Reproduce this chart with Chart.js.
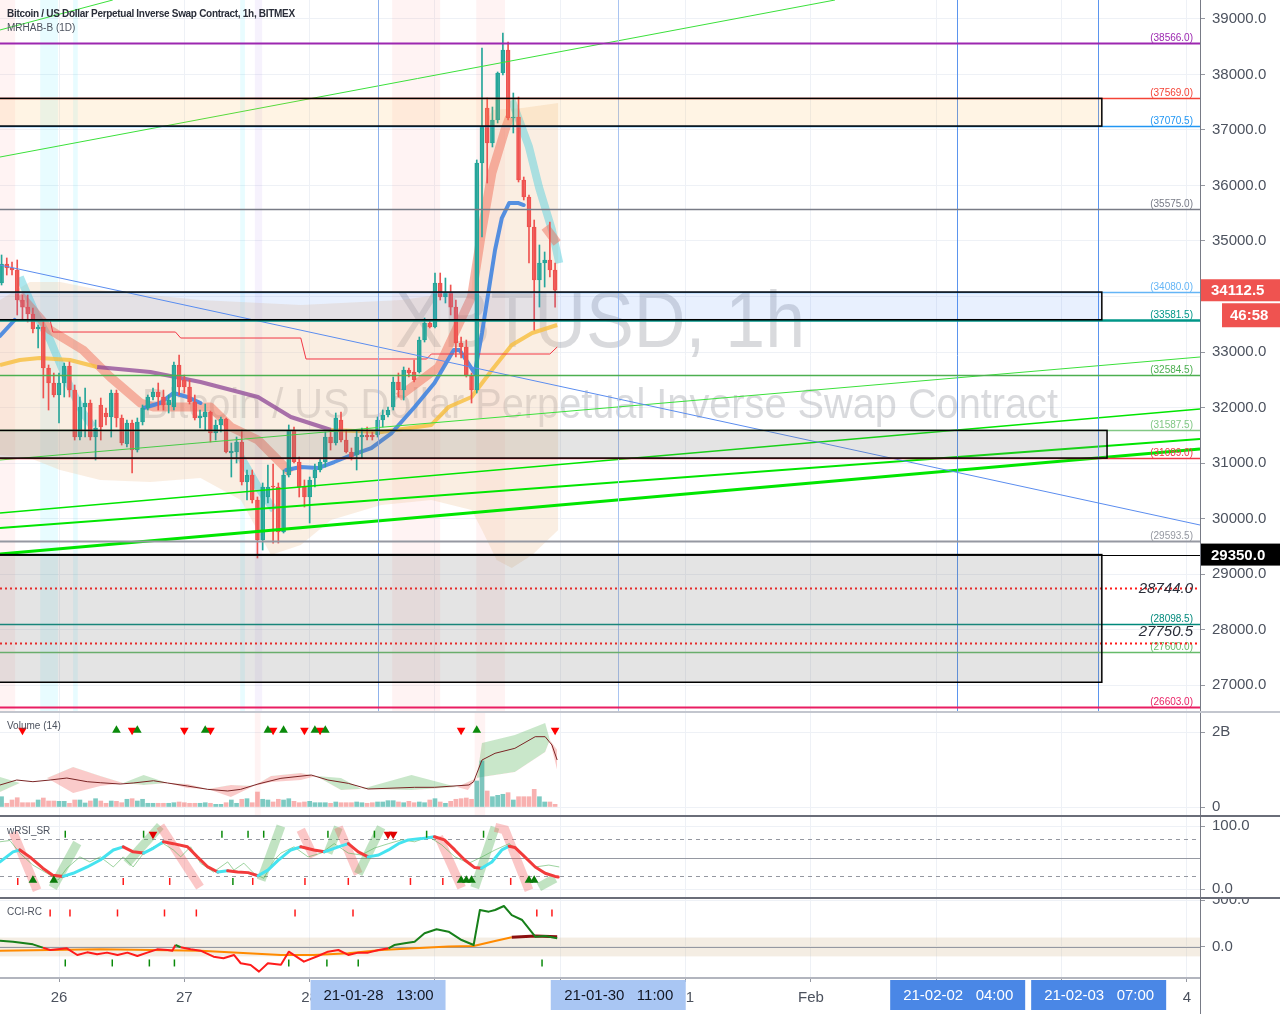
<!DOCTYPE html>
<html>
<head>
<meta charset="utf-8">
<title>XBTUSD 1h</title>
<script src="https://cdn.jsdelivr.net/npm/chart.js@4.4.1/dist/chart.umd.min.js"></script>
<style>
  html, body { margin: 0; padding: 0; background: #fff; }
  #wrap { position: relative; width: 1280px; height: 1014px; overflow: hidden; }
  .pane { position: absolute; left: 0; width: 1280px; }
  .title { position: absolute; left: 7px; font-family: 'Liberation Sans', Arial, sans-serif; font-size: 10px;
           color: #4c525e; white-space: nowrap; pointer-events: none; }
</style>
</head>
<body>
<div id="wrap">
  <div class="pane" style="top:0;height:711px"><canvas id="priceChart"></canvas></div>
  <div class="pane" style="top:711px;height:104px"><canvas id="volChart"></canvas></div>
  <div class="pane" style="top:815px;height:82px"><canvas id="rsiChart"></canvas></div>
  <div class="pane" style="top:897px;height:117px"><canvas id="cciChart"></canvas></div>
  <div class="title" style="top:8px;font-weight:bold;color:#2a2e39;letter-spacing:-0.3px">Bitcoin / US Dollar Perpetual Inverse Swap Contract, 1h, BITMEX</div>
  <div class="title" style="top:22px">MRHAB-B (1D)</div>
  <div class="title" style="top:720px">Volume (14)</div>
  <div class="title" style="top:825px">wRSI_SR</div>
  <div class="title" style="top:906px">CCI-RC</div>
</div>
<script>
// hour 0 = 2021-01-26 00:00, one candle per hour, first candle = 25 Jan 13:00
const firstHour = -11;
const opens = [34243,34585,34513,34477,33937,33810,33685,33415,33450,32712,32441,
  32225,32441,32748,32315,31468,32009,32081,31468,32045,31901,
  31829,32261,31811,31342,31721,31234,31739,31991,32189,32279,
  32189,32045,32009,32766,32495,32369,32099,31811,31829,31919,
  31540,31685,31793,31180,31198,31378,30658,30784,30333,29613,
  30388,30586,30568,29757,30784,31595,31018,30568,30388,30730,
  30874,31018,31468,31360,31775,31414,31198,31144,31468,31504,
  31504,31504,31775,31865,32009,32459,32315,32675,32639,32640,
  33216,33522,33450,34243,33991,34063,33810,33162,33090,32585,
  32315,36405,37396,36766,37180,38027,38441,37216,37234,36099,
  35793,35252,34297,34603,34658,34477];
const highs = [34748,34694,34622,34658,34027,34027,33793,33486,33577,32766,32621,
  32621,32802,32820,32405,32189,32351,32135,31775,32171,31991,
  32315,32315,31865,31775,31775,31811,32045,32225,32351,32441,
  32315,32225,32820,32946,32585,32495,32225,31955,32063,31937,
  31775,31829,31811,31360,31468,31595,30874,30874,30388,30640,
  30964,30982,30640,30874,31685,31649,31108,30694,30748,30982,
  31090,31558,31595,31901,31919,31595,31270,31595,31631,31649,
  31558,31829,31955,32009,32549,32621,32730,32712,32856,33270,
  33612,33577,34423,34423,34333,34207,33937,33270,33216,32621,
  36460,38477,37576,37414,38045,38747,38585,37666,37594,36153,
  35829,35378,34928,34802,35342,34603];
const lows = [34207,34387,34387,33667,33577,33540,33342,33072,32171,31955,32189,
  31721,32189,32189,31414,31414,31468,31414,31054,31414,31685,
  31468,31649,31324,31288,30820,31198,31685,31955,32135,31955,
  31955,31901,31955,32225,32261,32063,31775,31631,31595,31378,
  31414,31558,31180,30748,31000,30604,30333,30279,29288,29432,
  30279,29558,29558,29739,30748,31000,30388,30207,29919,30568,
  30838,30928,31234,31324,31378,31180,31054,30874,31090,31414,
  31414,31468,31649,31829,31955,32189,32135,32549,32459,32621,
  33180,33432,33432,33937,33883,33667,32910,32892,32549,32081,
  32261,35072,36045,36694,37126,37991,37180,36946,36063,35739,
  34603,33396,33810,34171,34351,33810];
const closes = [34585,34513,34477,33937,33810,33685,33415,33450,32712,32441,32225,
  32441,32748,32315,31468,32009,32081,31468,31631,31649,31829,
  32261,31811,31360,31721,31234,31739,31991,32189,32279,32189,
  32045,32135,32766,32369,32369,32099,31811,31847,31919,31540,
  31685,31793,31198,31216,31378,30658,30784,30333,29613,30568,
  30568,30568,29757,30784,31595,31018,30568,30388,30694,30874,
  31018,31468,31360,31811,31414,31198,31108,31468,31504,31468,
  31468,31775,31865,31955,32459,32315,32675,32621,32495,33216,
  33522,33450,34243,33991,34063,33810,33162,33090,32585,32315,
  36405,37054,36766,37180,38027,38441,37216,37234,36099,35793,
  35252,34297,34603,34658,34477,34112.5];
// volume, millions
const volumes = [275,99,187,248,115,115,115,187,240,160,160,
  152,152,99,187,187,107,160,222,160,99,
  160,152,115,206,222,160,206,99,99,99,
  99,99,115,134,115,99,99,99,115,99,
  72,72,115,187,99,206,222,115,400,206,
  187,134,206,187,222,152,115,134,152,115,
  115,115,99,134,115,115,115,134,115,99,
  115,134,134,169,169,134,115,152,115,134,
  115,187,222,134,99,152,206,222,240,206,
  694,1228,427,275,312,339,382,187,275,275,
  275,472,275,134,134,72];

// MRHAB-B overlay, [hour, price]
const cloudTop = [[-11.3,33937],[-5.6,34261],[0.2,34261],[7.9,34117],[27.1,33937],[46.3,33847],[65.6,33937],
  [79,34117],[80.2,35738],[81.3,37000],[82.9,37360],[88.7,37396],[95.6,37486]];
const cloudBot = [[-11.3,31144],[-5.6,31090],[0.2,30874],[7.9,30694],[17.5,30658],[27.1,30730],[34.8,30333],
  [40.6,29342],[46.3,29522],[52.1,29973],[61.7,30243],[71.3,30333],[79,30153],[81,29793],[83.8,29252],
  [86.7,29108],[90.6,29342],[95.6,29793]];
const slowLine = [[-11.3,32766],[-7.5,32856],[-3.7,32892],[2.1,32856],[7.3,32730],[17.5,32640],[27.1,32459],
  [38.1,32189],[44.4,31829],[52.1,31595],[61.7,31559],[71.3,31685],[74.6,32009],[79,32189],[82.9,32676],
  [86.7,33126],[90.6,33342],[95.4,33486]];
const blueLine = [
  [[-11.3,33288],[-8.5,33577]],
  [[16.2,31991],[19.4,32081],[21.9,32261],[24.6,32189],[27.1,32081]],
  [[43.5,30874],[46.3,30928],[49.6,30910],[52.7,31018],[56,31144],[59.8,31270],[63.7,31540],[68.1,32009],
   [71.9,32441],[75.6,33036],[76.7,33036],[79.6,32621],[81,33342],[82.3,34117],[83.5,34838],[84.8,35414],
   [86.2,35684],[88,35684],[89,35648]]];
const salmonRibbon = [
  [[-7.5,34027],[-1.7,33396],[4.6,33036],[9.8,32549],[15.6,32081],[18.1,32009],[29,32009],[32.9,31649],
   [38.1,31414],[41.9,31054],[44.4,30820]],
  [[65,32189],[72.7,32730],[79,33991],[81,35198],[82.9,36225],[85.4,37000],[86.3,37234]],
  [[93.1,35252],[95.4,34964]]];
const cyanRibbon = [
  [[-7.5,34351],[-4.2,33630],[-1.7,33216],[1.5,32495],[4.6,31901],[6.5,31649]],
  [[34.8,31108],[38.1,30568],[41.2,30153]],
  [[86.7,37540],[90,36694],[91.9,35973],[94.4,35198],[95.8,34603]]];
const redStep = [[-11.3,33577],[-1.7,33577],[-1.2,33360],[22.3,33360],[23.3,33252],[46.3,33252],[47.3,32874],
  [70.4,32874],[71.3,32964],[94,32964],[95.4,33090]];

// chart drawings
const levelValues = [38566.0,37569.0,37070.5,35575.0,34080.0,33581.5,32584.5,31587.5,31089.0,29593.5,28098.5,27600.0,26603.0];
const targetValues = [28744.0, 27750.5];
const boxes = [[37569.0,37070.5,199.7],[34080.0,33581.5,199.7],[31587.5,31089.0,200.7],[29350.0,27050.0,199.7]];
const trendLines = [
  [[-11.3,36513],[148.6,39342]],
  [[-11.3,38802],[10.3,39342]],
  [[-11.3,34567],[218.5,29883]],
  [[-11.3,31054],[218.5,32910]],
  [[-11.3,30099],[218.5,31973]],
  [[-11.3,29829],[218.5,31432]],
  [[-11.3,29360],[218.5,31252]]];
const priceStripes = [[-11.3,-8.4,'pink'],[-3.6,-0.2,'cyan'],[2.7,3.6,'cyan'],[34.7,35.6,'cyan'],[37.5,38.9,'violet'],[63.8,73,'pink'],[79.9,85.4,'pink']];
const volStripes = [[37.5,38.6,'pink'],[79.6,81.6,'pink']];
const markHours = [61, 107, 172, 199];
const markLabels = ['21-01-28   13:00', '21-01-30   11:00', '21-02-02   04:00', '21-02-03   07:00'];
const lastPrice = 34112.5, countdown = '46:58', markPrice = 29350.0;

// volume pane
const volMa = [[-11.3,587],[-8.1,720],[-5,675],[-1.7,720],[1.5,773],[5.4,675],[7.9,648],[11.7,613],[14.2,640],
  [18.1,701],[20.8,640],[24.6,560],[28.5,471],[32.3,427],[34.8,471],[38.1,613],[42.5,765],[48.3,853],[51.5,720],
  [55.4,631],[59.2,480],[68.1,525],[71.9,525],[78.5,587],[79.4,675],[81,1253],[83.5,1432],[87.3,1565],
  [91.2,1875],[93.1,1875],[94.4,1653],[95.4,1253]];
const volBandA = [[-11.3,800],[-7.5,640],[-2.3,773],[2.7,373],[7.9,560],[12.3,640],[16.2,853],[20.8,640],[24.6,507],
  [28.5,480],[32.9,267],[37.3,560],[40.6,667],[46.3,720],[49.2,827],[54,773],[57.9,480],[67.5,853],[76.2,533],
  [78.3,453],[80,773],[81,1707],[87.3,1920],[93.1,2240],[94,1787],[95.4,987]];
const volBandB = [[-11.3,400],[-7.5,640],[-2.3,773],[2.7,1067],[7.9,827],[12.3,640],[16.2,587],[20.8,640],[24.6,613],
  [28.5,480],[32.9,587],[37.3,560],[40.6,827],[46.3,907],[49.2,827],[54,453],[57.9,480],[67.5,453],[76.2,533],
  [78.3,667],[80,773],[81,800],[87.3,933],[93.1,1467],[94,1787],[95.4,1520]];
const volUpHours = [11,15,28,40,43,49,51,80];
const volDownHours = [-7,14,24,29,41,47,50,77,95];

// wRSI_SR pane
const rsiMain = [[-11.3,43],[-8.8,59],[-7.5,62],[-5.6,51],[-3.1,33],[-1.2,22],[0.8,20],[2.7,25],[5.4,35],[7.9,46],
  [10.4,62],[12.3,67],[14.2,59],[16.2,57],[18.1,65],[20,75],[21.9,72],[24.6,67],[26.5,51],[28.5,35],[30.4,27],
  [32.3,29],[34.2,27],[36.2,26],[38.1,21],[40,30],[41.9,45],[44.4,62],[46.3,67],[48.8,62],[50.8,59],[53.5,67],
  [55.4,72],[57.3,59],[59.2,51],[61.2,54],[63.1,62],[65,72],[66.9,78],[69.4,80],[71.9,83],[73.8,78],[75.8,62],
  [77.7,46],[79.6,34],[80.9,33],[82.9,43],[84.8,62],[86.2,68],[87.3,66],[89.2,51],[91.2,35],[93.1,25],[95,20],[95.6,19]];
const rsiThin = [[-11.3,75],[-9.4,77],[-7.5,57],[-5,38],[-2.3,25],[-0.2,14],[1.5,33],[4,51],[5.9,43],[7.9,51],
  [10.4,35],[12.3,51],[14.2,35],[16.2,57],[18.1,67],[20,72],[21.9,62],[23.3,51],[25.2,67],[27.1,41],[29.6,27],
  [32.3,43],[33.5,30],[35.4,41],[37.3,25],[39.2,17],[41.2,46],[42.5,57],[45,67],[47.7,51],[50.2,57],[52.7,72],
  [55.4,57],[57.9,54],[60.4,65],[63.1,72],[65.6,78],[68.1,75],[70.8,83],[73.3,70],[75.8,51],[78.5,41],[81,51],
  [83.5,62],[86.2,72],[88.7,57],[91.2,35],[93.8,38],[95.8,35]];
const rsiSwing = [
  [[-8.8,90],[-4.2,-2]],
  [[-1.2,2],[3.5,73]],
  [[13,41],[19.4,100],[27,3]],
  [[38.7,14],[42.5,100]],
  [[46.3,94],[48.8,51]],
  [[51.5,57],[53.5,98],[57.3,24],[61.7,98]],
  [[72.7,83],[77.1,2]],
  [[79.6,2],[83.5,98],[85.4,94],[90,-2]],
  [[91.9,3],[95,17]]];
const rsiUpHours = [-5,-1,77,78,79,90,91];
const rsiDownHours = [18,63,64];
const rsiTopGreen = [1.2,16.2,31.2,36.2,39.2,51.5,60.4,70.4,81.3];
const rsiBottomGreen = [33.3];
const rsiBottomRed = [-7.9,12.3,21.2,37.1,47.1,55.4,67.3,73.5,86.5];

// CCI-RC pane
const cciMain = [[-11.3,67],[-8.8,56],[-5,28],[-3.1,-7],[-1.7,-32],[0.2,-21],[1.5,-14],[3.5,-85],[5.4,-57],[7.3,-78],
  [9.2,-60],[11.2,-85],[13.1,-60],[15,-96],[16.9,-60],[18.8,-25],[20.8,-32],[21.7,-40],[22.3,21],[23.3,-3],
  [25.2,-25],[27.1,-39],[29.6,-103],[31.5,-120],[33.5,-85],[34.8,-173],[36.7,-191],[38.3,-262],[40,-173],
  [42.5,-190],[44,-50],[46.9,-156],[49.6,-96],[51.5,-50],[53.5,-32],[55.4,-85],[57.3,-60],[59.2,-60],[61.2,-32],
  [63.1,-14],[64.2,21],[66.2,39],[68.1,56],[70,146],[72.3,188],[74.6,163],[77.1,74],[79.4,21],[80.6,394],
  [82.3,376],[83.5,394],[85.2,436],[86.7,340],[88.7,287],[91.2,110],[93.1,117],[95.4,93]];
const cciSignal = [[-11.3,-39],[7.9,-25],[27.1,-39],[42.5,-85],[48.8,-85],[55.4,-67],[61.7,-32],[68.1,-14],
  [74.6,4],[79.4,11],[83.5,64],[86.7,103],[91.2,117],[95.4,110]];
const cciTopRed = [-1.7,2.1,11.2,20.2,26.3,45.2,56.3,91.5,94.4];
const cciBottomGreen = [1.2,10.2,17.3,22.1,44,51.3,57.3,92.5];

// axis labels
const dayLabels = ['26','27','28','29','30','31','Feb','2','3','4'];
const priceTicks = [27000,28000,29000,30000,31000,32000,33000,34000,35000,36000,37000,38000,39000];

// ---------- styling ----------
const X_MIN = -11.3, X_MAX = 218.5;
const FONT = "'Liberation Sans', Arial, sans-serif";
const TXT = '#4c525e';
const GRID = '#eef1f6';
const UP = '#26a69a', DN = '#ef5350';
const levelColors = ['#9c27b0','#f44336','#2196f3','#787b86','#64b5f6','#009688','#4caf50','#81c784','#f23645','#9598a1','#00897b','#66bb6a','#e91e63'];
const levelWidths = [2,1.5,1.5,1.5,1.5,2.5,1.5,1.5,1.5,2,1.5,1.5,2];
const boxFills = ['rgba(255,183,77,0.15)','rgba(66,133,244,0.12)','rgba(120,120,120,0.2)','rgba(120,120,120,0.2)'];
const trendColors = ['#3be03b','#3be03b','#5b8def','#3be03b','#00e600','#00e600','#00e600'];
const trendWidths = [1,1,1,1,1.5,2,3];
const stripeColors = { pink: 'rgba(255,82,82,0.07)', cyan: 'rgba(0,220,255,0.09)', violet: 'rgba(150,110,230,0.09)' };
const markColors = ['#8fb2ec','#a9c4f1','#5b95ee','#5b95ee'];
const markBoxColors = ['#a9c6f3','#a9c6f3','#4a87e6','#4a87e6'];
const markTextColors = ['#131722','#131722','#ffffff','#ffffff'];

Chart.defaults.font.family = FONT;
Chart.defaults.animation = false;
Chart.defaults.events = [];
Chart.defaults.plugins.legend.display = false;
Chart.defaults.plugins.tooltip.enabled = false;
Chart.defaults.elements.point.radius = 0;

const pts = arr => arr.map(p => ({ x: p[0], y: p[1] }));
const hours = opens.map((_, i) => firstHour + i);
const up = hours.map((_, i) => closes[i] >= opens[i]);
const gridHours = [];
for (let h = 0; h <= 216; h += 24) gridHours.push(h);

function xAxis(withLabels) {
  return {
    type: 'linear', min: X_MIN, max: X_MAX, offset: false,
    afterBuildTicks: s => { s.ticks = gridHours.map(v => ({ value: v })); },
    ticks: { display: withLabels, autoSkip: false, maxRotation: 0, padding: 7, color: TXT, font: { size: 15 },
             callback: v => dayLabels[v / 24] },
    grid: { color: GRID, offset: false, drawTicks: withLabels, tickLength: 4, tickColor: '#9598a1' },
    border: { display: withLabels, color: '#b2b5be', width: 2 },
    afterFit: s => { s.height = withLabels ? 36 : 0; s.paddingLeft = 0; s.paddingRight = 0; }
  };
}
function yAxis(min, max, ticks, fmt) {
  return {
    position: 'right', min, max,
    afterBuildTicks: s => { s.ticks = ticks.map(v => ({ value: v })); },
    ticks: { color: TXT, font: { size: 15 }, padding: 7, callback: fmt },
    grid: { color: GRID, tickLength: 5, tickColor: '#9598a1' },
    border: { display: true, color: '#787b86' },
    afterFit: s => { s.width = 80; s.paddingTop = 0; s.paddingBottom = 0; }
  };
}
function baseOptions(yScale, withLabels) {
  return {
    responsive: true, maintainAspectRatio: false, devicePixelRatio: 1,
    layout: { padding: 0, autoPadding: false },
    scales: { x: xAxis(withLabels), y: yScale }
  };
}
function markers(hrs, value, style, color, extra) {
  return Object.assign({
    type: 'line', order: -5, showLine: false, data: hrs.map(h => ({ x: h, y: value })),
    pointStyle: style, pointRadius: 5, pointBackgroundColor: color, pointBorderColor: color, pointBorderWidth: 0
  }, extra || {});
}
function tickMarks(hrs, value, color) {
  return markers(hrs, value, 'line', color, { pointRadius: 3.5, pointRotation: 90, pointBorderWidth: 1.5 });
}

// decoration shared by the panes: stripes, bands, reference lines, separators, time marks
function paneDecor(opts) {
  return {
    id: 'paneDecor',
    beforeDatasetsDraw(chart) {
      const { ctx, chartArea: a, scales: { x, y } } = chart;
      ctx.save();
      (opts.stripes || []).forEach(s => {
        const x0 = x.getPixelForValue(s[0]), x1 = x.getPixelForValue(s[1]);
        ctx.fillStyle = stripeColors[s[2]];
        ctx.fillRect(x0, a.top, x1 - x0, a.height);
      });
      if (opts.band) {
        const y0 = y.getPixelForValue(opts.band[1]), y1 = y.getPixelForValue(opts.band[0]);
        ctx.fillStyle = opts.band[2];
        ctx.fillRect(a.left, y0, a.width, y1 - y0);
      }
      (opts.hlines || []).forEach(l => {
        const yy = Math.round(y.getPixelForValue(l.v)) + 0.5;
        ctx.strokeStyle = l.color; ctx.lineWidth = 1; ctx.setLineDash(l.dash || []);
        ctx.beginPath(); ctx.moveTo(a.left, yy); ctx.lineTo(a.right, yy); ctx.stroke();
      });
      ctx.restore();
    },
    afterDraw(chart) {
      const { ctx, chartArea: a, scales: { x } } = chart;
      ctx.save();
      if (opts.sep) { ctx.fillStyle = opts.sep; ctx.fillRect(0, 0, chart.width, 2); }
      if (opts.axisMarks) {
        ctx.fillStyle = '#787b86';
        ctx.fillRect(a.right, a.bottom, 1, chart.height - a.bottom);
        ctx.font = `15px ${FONT}`; ctx.textAlign = 'center'; ctx.textBaseline = 'middle';
        markHours.forEach((h, i) => {
          const xx = x.getPixelForValue(h);
          ctx.fillStyle = markBoxColors[i];
          ctx.fillRect(xx - 67, a.bottom + 2, 135, 30);
          ctx.fillStyle = markTextColors[i];
          ctx.fillText(markLabels[i], xx + 1, a.bottom + 18);
        });
      }
      ctx.restore();
    }
  };
}

// ---------- price pane ----------
const pricePlugin = {
  id: 'priceDecor',
  beforeDatasetsDraw(chart) {
    const { ctx, chartArea: a } = chart;
    ctx.save();
    ctx.beginPath(); ctx.rect(a.left, a.top, a.width, a.height); ctx.clip();
    const cx = a.left + a.width / 2;
    ctx.fillStyle = 'rgba(120,123,134,0.28)';
    ctx.textAlign = 'center'; ctx.textBaseline = 'alphabetic';
    ctx.font = `80px ${FONT}`;
    ctx.fillText('XBTUSD, 1h', cx, a.top + 347, 410);
    ctx.font = `43px ${FONT}`;
    ctx.fillText('Bitcoin / US Dollar Perpetual Inverse Swap Contract', cx, a.top + 418, 916);
    ctx.restore();
  },
  afterDatasetsDraw(chart) {
    const { ctx, chartArea: a, scales: { x, y } } = chart;
    ctx.save();
    ctx.beginPath(); ctx.rect(a.left, a.top, a.width, a.height); ctx.clip();
    // vertical time marks
    markHours.forEach((h, i) => {
      const xx = Math.round(x.getPixelForValue(h)) + 0.5;
      ctx.strokeStyle = markColors[i]; ctx.lineWidth = 1;
      ctx.beginPath(); ctx.moveTo(xx, a.top); ctx.lineTo(xx, a.bottom); ctx.stroke();
    });
    // black line at the mark price
    const ym = Math.round(y.getPixelForValue(markPrice)) + 0.5;
    ctx.strokeStyle = '#000'; ctx.lineWidth = 1;
    ctx.beginPath(); ctx.moveTo(a.left, ym); ctx.lineTo(a.right, ym); ctx.stroke();
    ctx.font = `10px ${FONT}`; ctx.textAlign = 'right'; ctx.textBaseline = 'alphabetic';
    levelValues.forEach((v, i) => {
      const yy = Math.round(y.getPixelForValue(v)) + 0.5;
      ctx.strokeStyle = levelColors[i]; ctx.lineWidth = levelWidths[i];
      ctx.beginPath(); ctx.moveTo(a.left, yy); ctx.lineTo(a.right, yy); ctx.stroke();
      ctx.fillStyle = levelColors[i];
      ctx.fillText('(' + v.toFixed(1) + ')', a.right - 7, yy - 3);
    });
    const targetOffsets = [0, -12];
    targetValues.forEach((v, i) => {
      const yy = Math.round(y.getPixelForValue(v)) + 0.5;
      ctx.strokeStyle = '#ff1a1a'; ctx.lineWidth = 2; ctx.setLineDash([2, 3]);
      ctx.beginPath(); ctx.moveTo(a.left, yy); ctx.lineTo(a.right, yy); ctx.stroke();
      ctx.setLineDash([]);
      ctx.font = `italic 15px ${FONT}`; ctx.fillStyle = '#2a2e39'; ctx.textBaseline = 'middle';
      ctx.fillText(v.toFixed(1), a.right - 7, yy + targetOffsets[i]);
    });
    // rectangles sit on top of the level lines
    boxes.forEach((b, i) => {
      const x1 = x.getPixelForValue(b[2]);
      const y0 = y.getPixelForValue(b[0]), y1 = y.getPixelForValue(b[1]);
      ctx.fillStyle = boxFills[i];
      ctx.fillRect(a.left, y0, x1 - a.left, y1 - y0);
      ctx.strokeStyle = '#000'; ctx.lineWidth = 1.5;
      ctx.strokeRect(a.left - 3, y0, x1 - a.left + 3, y1 - y0);
    });
    ctx.restore();
  },
  afterDraw(chart) {
    const { ctx, chartArea: a, scales: { y } } = chart;
    ctx.save();
    ctx.font = `bold 15px ${FONT}`; ctx.textAlign = 'left'; ctx.textBaseline = 'middle';
    const yb = y.getPixelForValue(lastPrice);
    ctx.fillStyle = '#ef5350';
    ctx.fillRect(a.right + 1, yb - 11, 79, 22);
    ctx.fillRect(a.right + 22, yb + 13, 58, 24);
    ctx.fillStyle = '#fff';
    ctx.fillText(lastPrice.toFixed(1), a.right + 11, yb + 1);
    ctx.fillText(countdown, a.right + 30, yb + 26);
    const ym = y.getPixelForValue(markPrice);
    ctx.fillStyle = '#000';
    ctx.fillRect(a.right + 1, ym - 11, 79, 22);
    ctx.fillStyle = '#fff';
    ctx.fillText(markPrice.toFixed(1), a.right + 11, ym + 1);
    ctx.restore();
  }
};

const priceDatasets = [
  { type: 'bar', label: 'bodies', order: 1, grouped: false, barThickness: 4, borderWidth: 1, borderSkipped: false,
    data: hours.map((h, i) => {
      const lo = Math.min(opens[i], closes[i]);
      const hi = Math.max(opens[i], closes[i], lo + 12);
      return { x: h, y: [lo, hi] };
    }),
    backgroundColor: up.map(u => (u ? 'rgba(38,166,154,0.42)' : 'rgba(239,83,80,0.42)')),
    borderColor: up.map(u => (u ? UP : DN)) },
  { type: 'bar', label: 'wicks', order: 2, grouped: false, barThickness: 1,
    data: hours.map((h, i) => ({ x: h, y: [lows[i], highs[i]] })),
    backgroundColor: up.map(u => (u ? UP : DN)) }
];
trendLines.forEach((t, i) => priceDatasets.push({
  type: 'line', order: -1, data: pts(t), borderColor: trendColors[i], borderWidth: trendWidths[i]
}));
priceDatasets.push({ type: 'line', order: 8, data: pts(redStep), borderColor: '#f23645', borderWidth: 1 });
blueLine.forEach(s => priceDatasets.push({
  type: 'line', order: 9, data: pts(s), borderColor: 'rgba(66,133,224,0.9)', borderWidth: 4,
  borderJoinStyle: 'round', borderCapStyle: 'round'
}));
priceDatasets.push({
  type: 'line', order: 10, data: pts(slowLine), borderWidth: 4, borderJoinStyle: 'round',
  segment: { borderColor: c => (c.p0.parsed.x >= 7.3 && c.p0.parsed.x < 52 ? 'rgba(140,70,150,0.75)' : 'rgba(247,190,60,0.8)') }
});
salmonRibbon.forEach(s => priceDatasets.push({
  type: 'line', order: 12, data: pts(s), borderColor: 'rgba(239,112,90,0.5)', borderWidth: 9, borderJoinStyle: 'round'
}));
cyanRibbon.forEach(s => priceDatasets.push({
  type: 'line', order: 12, data: pts(s), borderColor: 'rgba(90,208,222,0.5)', borderWidth: 8, borderJoinStyle: 'round'
}));
priceDatasets.push({ type: 'line', order: 20, data: pts(cloudTop), borderColor: 'rgba(0,0,0,0)',
  fill: { target: '+1', above: 'rgba(240,200,160,0.3)', below: 'rgba(240,200,160,0.3)' } });
priceDatasets.push({ type: 'line', order: 21, data: pts(cloudBot), borderColor: 'rgba(0,0,0,0)' });

new Chart(document.getElementById('priceChart'), {
  type: 'bar',
  data: { datasets: priceDatasets },
  options: baseOptions(yAxis(26532, 39342, priceTicks, v => v.toFixed(1)), false),
  plugins: [paneDecor({ stripes: priceStripes }), pricePlugin]
});

// ---------- volume pane ----------
new Chart(document.getElementById('volChart'), {
  type: 'bar',
  data: { datasets: [
    markers(volUpHours, 2050, 'triangle', '#0a8a0a'),
    markers(volDownHours, 2050, 'triangle', '#ff0000', { pointRotation: 180 }),
    { type: 'line', order: 2, data: pts(volMa), borderColor: '#7a2424', borderWidth: 1 },
    { type: 'bar', order: 4, grouped: false, barThickness: 4,
      data: hours.map((h, i) => ({ x: h, y: volumes[i] })),
      backgroundColor: up.map(u => (u ? 'rgba(38,166,154,0.6)' : 'rgba(239,83,80,0.45)')) },
    { type: 'line', order: 6, data: pts(volBandA), borderColor: 'rgba(0,0,0,0)',
      fill: { target: '+1', above: 'rgba(76,175,80,0.3)', below: 'rgba(239,83,80,0.3)' } },
    { type: 'line', order: 7, data: pts(volBandB), borderColor: 'rgba(0,0,0,0)' }
  ]},
  options: baseOptions(yAxis(-213, 2560, [0, 2000], v => (v === 0 ? '0' : '2B')), false),
  plugins: [paneDecor({ stripes: volStripes, sep: '#c3c6ce' })]
});

// ---------- wRSI_SR pane ----------
const rsiDatasets = [
  markers(rsiUpHours, 14, 'triangle', '#0a7a0a'),
  markers(rsiDownHours, 87, 'triangle', '#e00000', { pointRotation: 180 }),
  tickMarks(rsiTopGreen, 87, '#0a8a0a'),
  tickMarks(rsiBottomGreen, 12, '#0a8a0a'),
  tickMarks(rsiBottomRed, 12, '#ff1a1a'),
  { type: 'line', order: 1, data: pts(rsiMain), borderWidth: 3, borderJoinStyle: 'round', borderCapStyle: 'round',
    segment: { borderColor: c => (c.p1.parsed.y >= c.p0.parsed.y ? '#45e3ef' : '#f23b3b') } },
  { type: 'line', order: 2, data: pts(rsiThin), borderColor: 'rgba(76,175,80,0.55)', borderWidth: 1 }
];
rsiSwing.forEach(s => rsiDatasets.push({
  type: 'line', order: 4, data: pts(s), borderWidth: 9,
  segment: { borderColor: c => (c.p1.parsed.y >= c.p0.parsed.y ? 'rgba(76,175,80,0.35)' : 'rgba(242,80,80,0.32)') }
}));
new Chart(document.getElementById('rsiChart'), {
  type: 'line',
  data: { datasets: rsiDatasets },
  options: baseOptions(yAxis(-12.7, 117.5, [0, 100], v => v.toFixed(1)), false),
  plugins: [paneDecor({ sep: '#6a6d78', hlines: [
    { v: 80, color: '#9598a1', dash: [4, 4] }, { v: 20, color: '#9598a1', dash: [4, 4] }, { v: 50, color: '#9598a1' }] })]
});

// ---------- CCI-RC pane ----------
new Chart(document.getElementById('cciChart'), {
  type: 'line',
  data: { datasets: [
    tickMarks(cciTopRed, 362, '#ff1a1a'),
    tickMarks(cciBottomGreen, -170, '#0a8a0a'),
    { type: 'line', order: 1, data: pts(cciMain), borderWidth: 2, borderJoinStyle: 'round',
      segment: { borderColor: c => ((c.p0.parsed.y + c.p1.parsed.y) / 2 >= 0 ? '#17801a' : '#ff1b1b') } },
    { type: 'line', order: 2, data: pts(cciSignal), borderJoinStyle: 'round',
      segment: {
        borderColor: c => (c.p0.parsed.x >= 86.7 ? '#8b0f0f' : '#ff8a00'),
        borderWidth: c => (c.p0.parsed.x >= 86.7 ? 3 : 2)
      } }
  ]},
  options: baseOptions(yAxis(-330, 532, [0, 500], v => v.toFixed(1)), true),
  plugins: [paneDecor({ sep: '#6a6d78', band: [-100, 100, 'rgba(215,192,155,0.28)'],
    hlines: [{ v: 0, color: '#9598a1' }], axisMarks: true })]
});
</script>
</body>
</html>
